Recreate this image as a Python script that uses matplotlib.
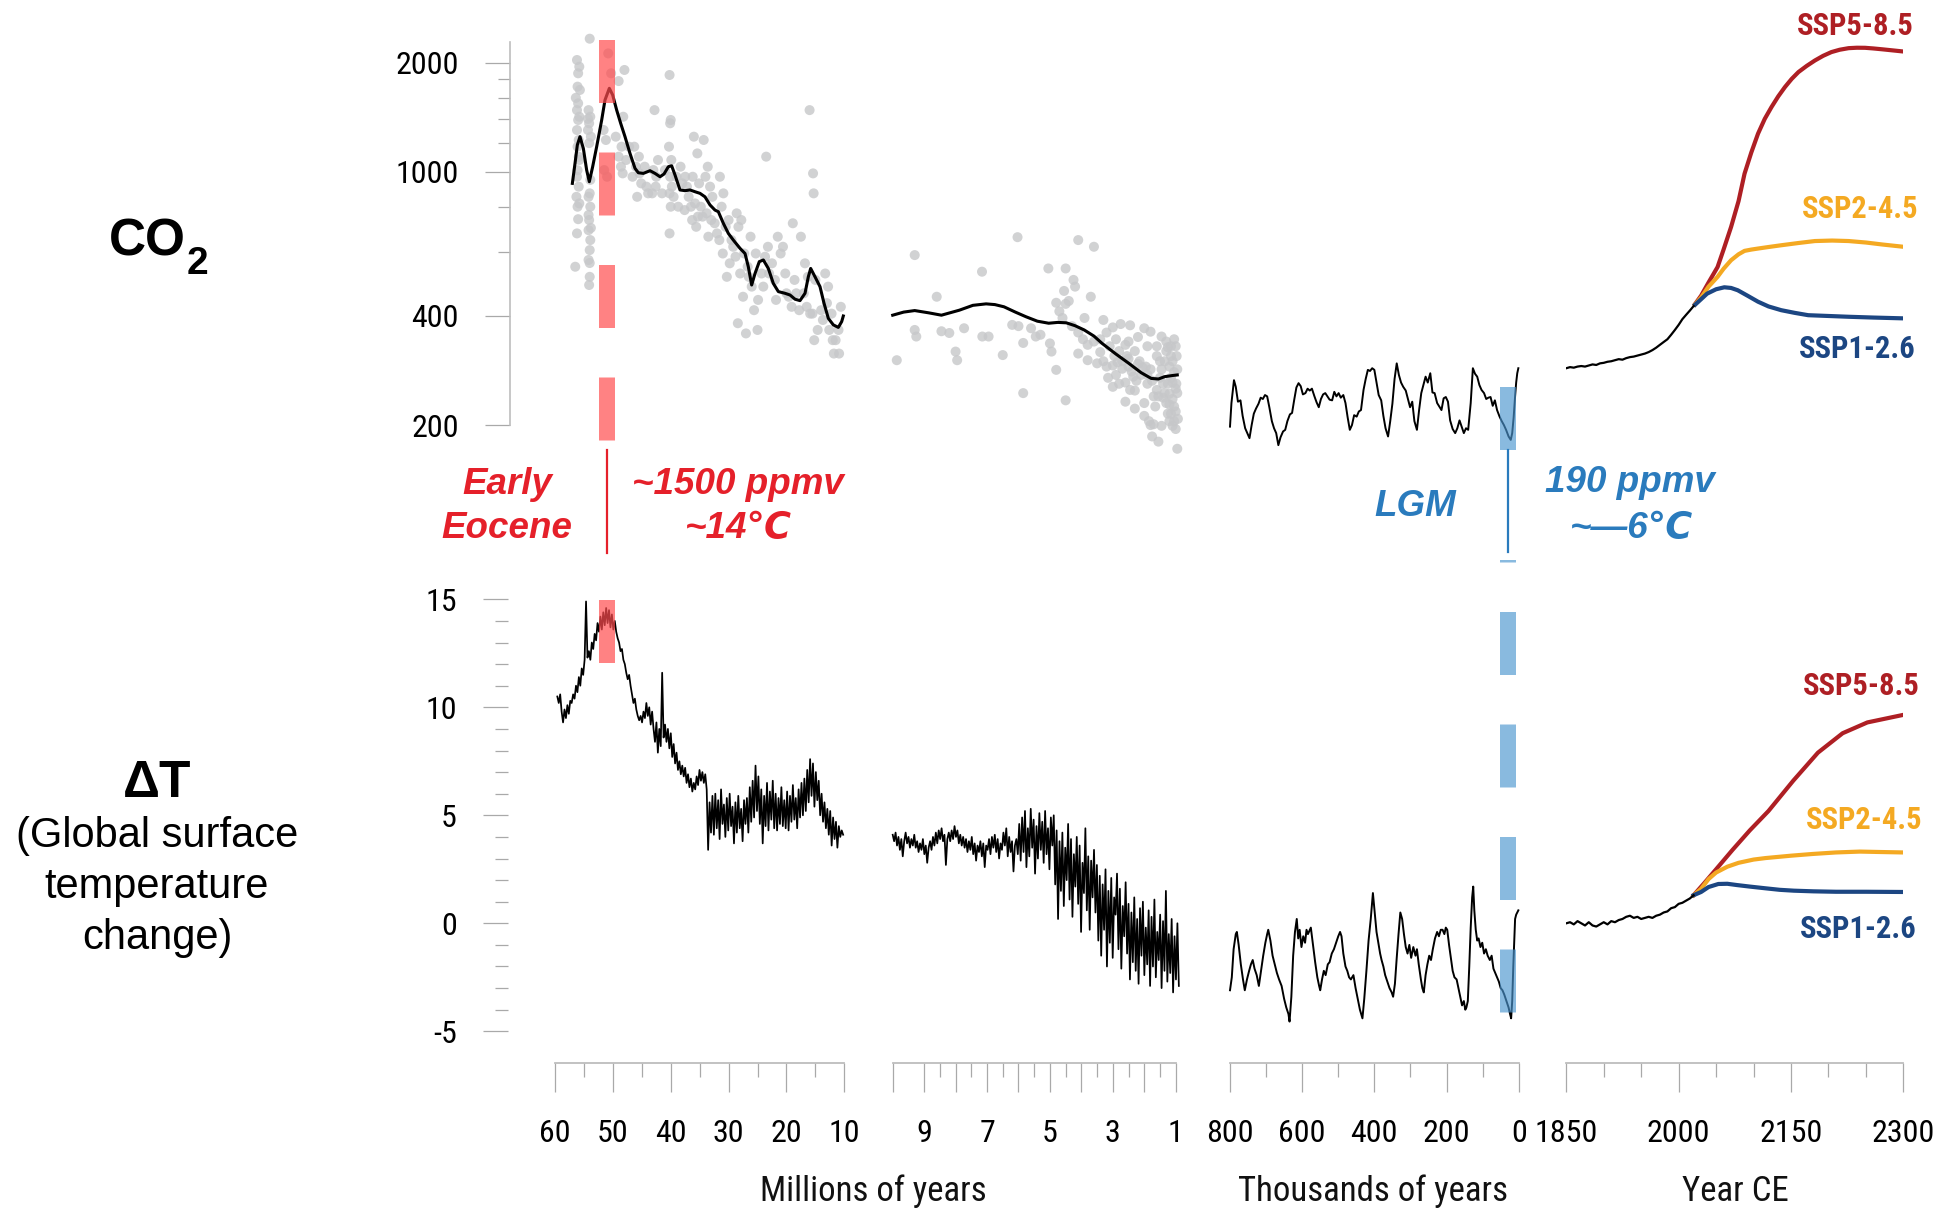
import numpy as np
import matplotlib
matplotlib.use("Agg")
import matplotlib.pyplot as plt
from matplotlib import font_manager
from matplotlib.lines import Line2D
from matplotlib.ticker import FixedLocator, NullFormatter, FixedFormatter
from matplotlib.transforms import blended_transform_factory

SANS = ["Liberation Sans", "DejaVu Sans"]
installed = {f.name for f in font_manager.fontManager.ttflist}
narrow = [n for n in ("Liberation Sans Narrow", "Roboto Condensed", "Open Sans Condensed") if n in installed]
if narrow:
    plt.rcParams["font.family"] = [narrow[0]] + SANS
    TICK_FS, SSP_FS, TITLE_FS = 23, 22, 25
else:
    plt.rcParams["font.family"] = SANS
    TICK_FS, SSP_FS, TITLE_FS = 21.5, 20.5, 23.5
plt.rcParams["axes.unicode_minus"] = False
plt.rcParams["lines.scale_dashes"] = False

# ---------------- data ----------------
# Cenozoic CO2, smoothed curve (Ma, ppm)
ceno_co2 = [(57.0, 929), (56.54, 1055), (56.14, 1186), (55.68, 1250), (55.10, 1160), (54.53, 1011),
            (54.07, 939), (53.49, 1033), (52.80, 1173), (51.93, 1390), (51.36, 1578), (50.61, 1700),
            (50.03, 1629), (49.34, 1480), (48.65, 1361), (47.90, 1250), (47.04, 1124), (46.17, 1022),
            (45.60, 994), (44.73, 990), (43.58, 1007), (42.72, 990), (41.85, 969), (41.16, 986),
            (40.41, 1033), (39.84, 1039), (39.26, 980), (38.40, 891), (37.53, 887), (36.67, 891),
            (35.80, 881), (34.94, 872), (34.08, 853), (33.21, 810), (32.35, 784), (31.77, 776),
            (30.91, 721), (30.04, 676), (29.18, 648), (28.03, 615), (27.16, 595), (26.59, 547),
            (26.01, 487), (25.43, 524), (24.69, 565), (23.99, 571), (23.13, 541), (22.27, 492),
            (21.40, 467), (20.25, 462), (19.38, 457), (18.52, 445), (17.66, 441), (16.79, 462),
            (16.22, 513), (15.81, 541), (15.06, 513), (14.20, 482), (13.51, 434), (12.76, 394),
            (11.90, 378), (11.03, 372), (10.45, 386), (10.17, 400)]

# Cenozoic CO2 proxy estimates (Ma, ppm)
ceno_proxy = [(56.2, 2035), (55.8, 1950), (56.0, 1870), (56.1, 1718), (55.7, 1682), (56.0, 1545),
              (56.2, 1480), (55.8, 1419), (56.0, 1390), (56.2, 1304), (55.9, 1224), (56.1, 1173),
              (55.8, 1078), (56.2, 969), (55.9, 910), (56.3, 853), (55.8, 818), (56.1, 801),
              (56.2, 676), (56.5, 547), (54.0, 2330), (54.2, 1480), (53.9, 1419), (54.1, 1361),
              (54.3, 1304), (53.8, 1250), (54.0, 872), (54.2, 853), (53.9, 801), (54.1, 736),
              (54.2, 690), (53.9, 648), (54.0, 608), (54.2, 571), (54.0, 513), (54.1, 487),
              (50.8, 2122), (50.3, 1870), (49.0, 1780), (51.6, 1304), (51.2, 1224), (51.5, 1011),
              (51.0, 969), (48.0, 1910), (48.2, 1419), (48.5, 1173), (48.6, 1033), (46.3, 1173),
              (45.5, 1101), (46.0, 1033), (45.4, 990), (45.8, 853), (42.8, 1480), (42.5, 969),
              (42.6, 910), (43.2, 872), (40.2, 1850), (40.0, 1390), (40.1, 1361), (40.3, 1173),
              (39.9, 1078), (40.1, 969), (39.8, 910), (40.2, 872), (40.0, 801), (40.2, 676),
              (38.3, 1033), (37.5, 969), (38.0, 929), (36.9, 853), (37.6, 784), (36.0, 1250),
              (35.4, 1124), (36.2, 969), (35.1, 929), (35.8, 818), (35.3, 752), (35.6, 705),
              (34.3, 1224), (33.6, 1033), (34.0, 969), (33.2, 910), (33.8, 768), (33.0, 736),
              (33.5, 662), (31.5, 969), (30.9, 872), (31.2, 801), (30.0, 736), (30.5, 705),
              (31.0, 595), (29.8, 559), (30.3, 513), (28.6, 768), (27.8, 736), (28.3, 705),
              (27.3, 595), (28.0, 524), (27.5, 452), (28.4, 382), (27.0, 358), (26.2, 662),
              (25.3, 595), (26.0, 482), (24.9, 443), (25.6, 415), (25.0, 366), (23.5, 1101),
              (23.2, 621), (23.7, 583), (23.0, 524), (21.5, 662), (20.6, 621), (21.0, 595),
              (20.2, 524), (19.6, 452), (18.9, 721), (18.6, 503), (19.1, 424), (16.0, 1480),
              (17.5, 662), (16.8, 559), (16.3, 513), (17.0, 462), (16.5, 424), (15.9, 406),
              (15.4, 990), (15.3, 872), (15.0, 503), (15.5, 406), (14.6, 366), (15.2, 343),
              (13.3, 524), (12.8, 482), (13.0, 434), (12.2, 406), (12.6, 366), (11.8, 315),
              (10.6, 424), (11.0, 366), (10.9, 315),
              (49.5, 1250), (49.0, 1101), (48.3, 990), (47.7, 1078), (47.2, 1173), (46.6, 969),
              (45.1, 929), (44.5, 1033), (44.2, 910), (43.9, 872), (43.0, 1011), (42.2, 1078),
              (41.5, 872), (41.0, 1011), (39.5, 853), (39.0, 969), (38.7, 801), (37.2, 910),
              (36.5, 801), (36.3, 736), (34.8, 801), (34.5, 752), (32.8, 853), (32.4, 721),
              (32.0, 676), (31.6, 648), (29.5, 648), (29.2, 621), (28.8, 583), (26.7, 547),
              (26.5, 513), (24.3, 524), (24.0, 482), (22.5, 559), (22.0, 503), (21.8, 443),
              (20.0, 462), (18.3, 462), (17.8, 415), (14.0, 415), (13.7, 390), (12.0, 343),
              (11.5, 343), (56.4, 1600), (55.9, 1100), (56.1, 1010), (54.3, 1400), (54.1, 1200),
              (53.9, 950), (54.2, 760), (53.8, 700), (56.0, 740), (54.0, 560)]

# Late Miocene to Pleistocene CO2, smoothed (Ma, ppm)
neo_co2 = [(10.0, 402), (9.65, 410), (9.30, 414), (8.85, 408), (8.45, 402), (7.88, 415), (7.45, 428),
           (7.03, 432), (6.75, 430), (6.46, 424), (6.1, 410), (5.76, 398), (5.4, 387), (5.04, 382),
           (4.75, 384), (4.48, 383), (4.2, 376), (3.91, 366), (3.6, 352), (3.34, 336), (2.9, 314),
           (2.49, 296), (2.1, 279), (1.78, 269), (1.55, 268), (1.35, 272), (1.1, 274), (0.95, 275)]

neo_proxy = [(9.30, 589), (9.87, 302), (9.3, 366), (9.25, 351), (8.6, 452), (8.45, 363), (8.2, 359),
             (8.0, 319), (7.95, 302), (7.73, 370), (7.16, 530), (7.15, 351), (6.95, 351), (6.5, 312),
             (6.03, 660), (6.2, 378), (6.0, 375), (5.85, 337), (5.85, 245), (5.6, 370), (5.45, 351),
             (5.3, 355), (5.05, 541), (5.0, 336), (4.95, 319), (4.8, 284), (4.5, 541), (4.5, 234),
             (4.8, 435), (4.5, 432), (4.25, 503), (4.2, 482), (4.1, 648), (3.6, 621), (4.55, 469),
             (4.4, 440), (4.3, 375), (4.1, 360), (3.95, 345), (3.8, 333), (3.7, 452), (4.1, 315),
             (3.8, 302), (3.5, 296), (3.3, 390), (3.0, 372), (2.75, 380), (2.45, 377), (3.2, 360),
             (2.9, 345), (2.6, 333), (2.3, 320), (3.3, 300), (3.0, 292), (2.7, 286), (2.4, 281),
             (3.2, 290), (2.9, 275), (2.6, 262), (2.3, 249), (2.6, 232), (2.3, 222), (2.0, 212),
             (1.85, 205), (1.7, 201), (1.45, 199), (1.1, 199), (2.0, 370), (1.8, 362), (1.45, 351),
             (1.3, 340), (1.25, 328), (1.9, 260), (1.6, 250), (1.4, 238), (1.2, 228), (1.0, 218),
             (1.05, 205), (1.15, 310), (1.1, 300), (1.2, 290), (1.05, 280), (1.15, 270), (1.1, 262),
             (1.0, 252), (1.2, 244), (1.1, 236), (2.5, 305), (2.2, 295), (2.1, 275), (1.8, 285),
             (1.6, 310), (1.5, 270), (2.8, 320), (3.4, 318), (3.6, 340), (3.9, 395), (4.6, 395),
             (4.7, 412), (1.35, 300), (1.25, 260), (0.95, 172), (1.55, 180), (1.75, 186),
             (3.4, 345), (3.1, 330), (2.95, 310), (2.85, 298), (2.7, 300), (2.55, 310), (2.5, 290),
             (2.35, 272), (2.25, 265), (2.15, 300), (2.05, 288), (1.95, 290), (1.9, 275), (1.75, 265),
             (1.7, 240), (1.65, 225), (1.55, 240), (1.5, 300), (1.45, 285), (1.4, 260), (1.35, 245),
             (1.3, 230), (1.25, 215), (1.2, 205), (1.15, 215), (1.05, 225), (1.0, 195), (0.98, 260),
             (0.95, 285), (0.97, 310), (1.0, 330), (1.05, 345), (1.15, 330), (1.3, 320), (1.6, 330),
             (1.9, 330), (2.2, 350), (2.5, 340), (0.95, 245), (0.93, 208), (1.8, 200), (2.0, 230),
             (2.45, 250), (2.8, 260), (3.0, 255), (3.15, 270)]

# ice-core CO2 (ka, ppm)
ice_co2 = [(800, 198), (796, 230), (789, 266), (784, 255), (778, 232), (771, 234), (765, 212), (758, 196),
           (752, 190), (746, 184), (740, 200), (734, 215), (728, 222), (721, 229), (715, 238), (709, 236),
           (703, 242), (697, 240), (691, 224), (684, 205), (678, 196), (672, 190), (666, 176), (660, 185),
           (653, 192), (647, 194), (641, 205), (634, 214), (628, 216), (622, 235), (616, 254), (610, 261),
           (604, 256), (598, 243), (591, 245), (585, 252), (579, 249), (573, 252), (566, 240), (560, 231),
           (554, 224), (548, 236), (542, 243), (536, 245), (530, 240), (524, 235), (517, 234), (511, 247),
           (505, 240), (499, 245), (493, 238), (486, 242), (480, 230), (474, 210), (468, 194), (462, 200),
           (456, 213), (449, 211), (443, 218), (437, 220), (430, 250), (424, 268), (418, 284), (412, 282),
           (406, 287), (400, 284), (394, 262), (388, 242), (381, 234), (375, 212), (369, 196), (362, 186),
           (356, 205), (350, 229), (344, 268), (338, 296), (332, 275), (326, 262), (320, 255), (313, 249),
           (307, 236), (301, 224), (295, 232), (289, 205), (282, 194), (276, 220), (270, 245), (264, 258),
           (258, 272), (252, 262), (245, 278), (239, 246), (233, 245), (226, 230), (220, 225), (214, 220),
           (208, 237), (202, 239), (196, 232), (190, 206), (183, 195), (176, 190), (170, 196), (164, 206),
           (158, 198), (152, 190), (146, 196), (140, 194), (133, 230), (127, 287), (121, 277), (115, 272),
           (109, 258), (103, 250), (96, 245), (90, 236), (84, 238), (78, 239), (72, 226), (66, 234),
           (60, 220), (53, 211), (47, 205), (41, 200), (35, 194), (28, 186), (22, 182), (18, 190),
           (14, 210), (10, 240), (7, 262), (4, 278), (1, 287)]

# historical CO2 and SSP concentration pathways (year, ppm)
hist_years = list(range(1850, 2021, 5))
hist_co2 = [287, 289, 288, 290, 291, 290, 292, 294, 293, 296, 297, 299, 300, 302, 304, 303, 306, 308,
            309, 311, 313, 315, 318, 322, 327, 333, 339, 345, 355, 366, 378, 392, 403, 414, 426]
ssp585_years = [2020, 2030, 2040, 2052, 2060, 2070, 2080, 2088, 2097, 2106, 2115, 2124, 2133, 2142,
                2151, 2160, 2171, 2182, 2193, 2204, 2215, 2227, 2238, 2249, 2260, 2272, 2286, 2300]
ssp585_co2 = [426, 455, 495, 546, 610, 704, 830, 988, 1130, 1274, 1400, 1509, 1615, 1714,
              1805, 1885, 1960, 2029, 2090, 2140, 2172, 2194, 2200, 2199, 2190, 2178, 2163, 2148]
ssp245_years = [2020, 2030, 2040, 2052, 2060, 2070, 2080, 2088, 2097, 2106, 2120, 2137, 2160, 2182,
                2205, 2227, 2250, 2272, 2300]
ssp245_co2 = [426, 450, 482, 513, 540, 570, 592, 605, 610, 614, 620, 627, 636, 644, 646, 644, 638, 630, 621]
ssp126_years = [2020, 2030, 2038, 2050, 2061, 2070, 2079, 2092, 2106, 2120, 2137, 2155, 2173, 2200,
                2227, 2260, 2300]
ssp126_co2 = [426, 445, 461, 474, 480, 478, 471, 455, 438, 425, 415, 408, 402, 400, 398, 396, 394]

# Cenozoic temperature (59.6 -> 10.2 Ma, evenly sampled)
ceno_temp = [10.5, 10.2, 10.6, 9.8, 9.3, 9.9, 9.5, 10.1, 9.7, 10.3, 10.2,
             10.6, 10.4, 11.0, 10.7, 11.4, 11.0, 11.8, 11.5,
             12.2, 14.9, 12.3,
             12.6, 12.2, 13.0, 12.7, 13.4, 13.1, 13.9, 13.5,
             14.2, 13.6, 14.4, 13.8, 14.6, 13.9, 14.5, 13.7, 14.3, 13.6, 14.0, 13.5,
             13.2, 13.0, 12.6, 12.7, 12.2, 12.0, 11.6, 11.3, 11.5, 11.0, 10.6, 10.2, 10.4, 9.9, 9.6, 9.4, 9.6, 9.3,
             9.8, 9.5, 10.2, 9.6, 10.0, 9.2, 9.8, 9.0,
             8.4, 9.3, 7.9, 9.0, 8.2, 11.6, 8.6,
             9.2, 8.4, 9.0, 8.1, 8.8, 7.7, 8.3, 7.4, 7.9, 7.1, 7.5, 6.9, 7.3,
             6.8, 7.2, 6.5, 6.9, 6.3, 6.7, 6.1, 6.5, 6.2, 6.8, 6.4, 7.1, 6.6, 7.0, 6.5, 6.9,
             6.2, 3.4, 5.6, 4.2,
             5.9, 4.1, 6.0, 4.4, 5.7, 3.9, 6.2, 4.6, 5.5, 4.0, 5.8, 4.3, 6.0, 4.5, 5.4, 3.7, 5.6, 4.2, 5.9, 4.4,
             5.3, 3.8, 5.7, 4.6,
             5.8, 4.2, 6.3, 4.7, 6.6, 4.9, 7.3, 5.2, 6.8, 4.6, 6.2, 3.7, 5.9, 4.5, 6.5, 4.3, 6.1, 4.8, 6.6, 4.4,
             6.0, 4.3, 5.8, 4.6, 6.3, 4.5, 5.7, 4.4, 6.1, 4.3, 5.9, 4.7, 6.4, 4.8, 5.8, 4.4, 6.2, 4.9, 6.5, 5.0,
             6.7, 5.2, 7.1, 5.6, 7.6, 5.9, 7.4, 5.4, 7.0, 5.7, 6.6, 5.0,
             6.0, 4.7, 5.6, 4.4, 5.3, 4.1, 5.2, 3.6, 4.9, 3.9, 4.7, 3.5, 4.5, 4.0, 4.3, 4.1]

# late Miocene to Pleistocene temperature (10.0 -> 0.9 Ma, evenly sampled)
neo_temp = [4.1, 3.8, 4.2, 3.6, 4.0, 3.4, 3.9, 3.1, 3.8, 4.2,
            3.7, 4.0, 3.5, 3.9, 3.6, 4.1, 3.5, 3.8, 3.3, 3.7,
            3.4, 3.9, 3.2, 3.6, 2.8, 3.5, 3.8, 3.4, 4.0, 3.6,
            4.2, 3.7, 4.3, 3.9, 4.4, 3.8, 4.1, 2.7, 3.9, 4.2,
            3.8, 4.3, 3.9, 4.5, 4.0, 4.3, 3.7, 4.1, 3.6, 4.0,
            3.5, 3.9, 3.3, 3.8, 3.4, 4.0, 3.2, 3.7, 2.9, 3.6,
            3.3, 3.8, 3.1, 3.7, 2.6, 3.6, 3.4, 3.9, 3.2, 4.0,
            3.5, 4.1, 3.3, 3.9, 3.0, 3.7, 3.4, 4.2, 3.6, 4.4,
            3.1, 4.0, 3.3, 3.8, 2.4, 3.6, 3.9, 3.2,
            4.6, 2.9, 4.9, 3.3, 5.2, 2.6, 4.4, 3.1, 5.3, 3.5, 4.8, 2.3, 4.5, 3.0, 5.1, 3.4, 4.7, 2.8, 5.2, 3.2,
            4.4, 2.5, 4.9, 3.6, 5.0, 1.8,
            4.3, 0.2, 3.8, 1.5, 4.2, 0.8, 3.5, 2.0, 4.6, 1.1, 3.9, 0.3, 3.2, 1.7, 4.0, 0.9, 3.6, -0.4, 2.8, 1.4,
            4.4, 0.6, 3.1, -0.3, 2.9, 1.2, 3.4,
            0.5, 2.7, -0.8, 2.2, -1.5, 1.8, -0.3, 2.5, -2.0, 1.5, -0.9, 2.1, -1.6, 1.2, 0.4, 2.3, -1.2, 1.6,
            -2.1, 0.8, -0.6, 1.9,
            -1.4, 0.9, -2.6, 0.5, -1.8, 1.2, -2.2, 0.2, -2.8, 0.7, -1.5, 1.0, -2.4, -0.2, -1.9, 0.6, -2.9, 0.3,
            -2.0, 1.1, -2.5, -0.4, -1.7, 0.4, -3.0, 0.1, -2.2, 1.5, -2.7, -0.5, -2.3, 0.2, -3.2, -0.6, -2.6,
            0.0, -2.9]

# glacial cycles temperature (ka, degC)
ice_temp = [(800, -3.1), (795, -2.5), (790, -1.2), (784, -0.5), (781, -0.4), (776, -1.0), (770, -1.9),
            (764, -2.6), (759, -3.1), (753, -2.6), (747, -2.2), (742, -1.9), (737, -1.7), (732, -2.1),
            (726, -2.4), (720, -2.9), (714, -2.2), (708, -1.5), (702, -0.9), (697, -0.5), (694, -0.3),
            (688, -0.8), (682, -1.5), (676, -1.9), (670, -2.3), (664, -2.6), (657, -2.9), (650, -3.5),
            (644, -3.9), (638, -4.2), (635, -4.55), (630, -3.4), (625, -1.5), (620, -0.4), (615, 0.2),
            (611, -0.7), (607, -0.3), (602, -1.1), (597, -0.6), (592, -0.9), (588, -0.3), (584, -0.5),
            (576, -0.2), (570, -1.0), (564, -1.8), (558, -2.5), (553, -2.9), (550, -3.1), (545, -2.6),
            (540, -2.2), (535, -2.4), (529, -1.9), (524, -1.8), (518, -1.4), (512, -1.2), (506, -0.9),
            (500, -0.6), (495, -0.4), (491, -0.6), (486, -1.4), (480, -2.0), (475, -2.2), (470, -2.5),
            (465, -2.6), (458, -2.4), (452, -3.0), (446, -3.5), (440, -4.0), (433, -4.4), (428, -3.5),
            (422, -2.2), (416, -0.8), (410, 0.2), (404, 1.4), (399, 0.5), (394, -0.4), (389, -0.9),
            (384, -1.4), (380, -1.7), (375, -2.0), (370, -2.4), (364, -2.7), (358, -3.0), (352, -3.2),
            (348, -3.4), (343, -2.8), (338, -1.6), (333, -0.5), (328, 0.5), (323, 0.2), (318, -0.5),
            (313, -1.1), (308, -1.4), (303, -1.0), (298, -1.6), (292, -1.1), (286, -1.5), (282, -1.2),
            (277, -1.9), (271, -2.6), (267, -3.0), (263, -3.2), (258, -2.4), (253, -1.9), (248, -1.5),
            (243, -1.7), (238, -1.2), (232, -0.7), (226, -0.4), (221, -0.6), (216, -0.3), (211, -0.3),
            (206, -0.5), (202, -0.2), (198, -0.3), (193, -1.0), (188, -1.6), (183, -2.2), (178, -2.5),
            (172, -2.6), (167, -3.0), (162, -3.4), (157, -3.8), (152, -3.6), (148, -4.0), (145, -3.9),
            (141, -3.6), (137, -2.0), (133, -0.2), (129, 1.2), (126, 1.7), (123, 0.6), (119, -0.3),
            (115, -0.8), (111, -0.7), (106, -1.1), (101, -0.9), (96, -1.4), (91, -1.2), (86, -1.5),
            (80, -1.7), (75, -1.5), (70, -2.1), (65, -2.3), (60, -2.5), (55, -2.7), (50, -3.0), (45, -3.1),
            (40, -3.3), (34, -3.6), (28, -3.9), (24, -4.2), (21, -4.4), (18, -3.6), (15, -2.0), (12, -0.6),
            (10, 0.2), (7, 0.4), (4, 0.5), (1, 0.6)]

# historical warming and SSP projections (year, degC)
hist_temp = [0.0, 0.05, -0.05, 0.1, 0.0, -0.1, 0.05, -0.1, -0.15, -0.05, 0.05, -0.05, 0.1, 0.05, 0.15,
             0.2, 0.3, 0.35, 0.25, 0.3, 0.2, 0.25, 0.3, 0.25, 0.35, 0.4, 0.5, 0.55, 0.7, 0.75, 0.9, 0.95,
             1.05, 1.15, 1.3]
t585_years = [2020, 2034, 2050, 2072, 2095, 2120, 2153, 2186, 2219, 2252, 2300]
t585 = [1.3, 1.85, 2.5, 3.4, 4.3, 5.2, 6.6, 7.9, 8.8, 9.3, 9.65]
t245_years = [2020, 2030, 2040, 2050, 2065, 2080, 2100, 2116, 2150, 2179, 2210, 2242, 2270, 2300]
t245 = [1.3, 1.6, 2.05, 2.35, 2.62, 2.8, 2.95, 3.02, 3.13, 3.21, 3.28, 3.32, 3.3, 3.28]
t126_years = [2020, 2030, 2040, 2053, 2065, 2078, 2095, 2116, 2135, 2154, 2180, 2210, 2250, 2300]
t126 = [1.3, 1.45, 1.68, 1.82, 1.83, 1.77, 1.70, 1.62, 1.55, 1.51, 1.48, 1.46, 1.46, 1.45]

eocene_ma = 51.0     # Early Eocene climatic optimum
lgm_ka = 29.0        # Last Glacial Maximum band centre

RED_TXT = "#e5202a"
BLUE_TXT = "#2a7bbd"
C585, C245, C126 = "#ae1f24", "#f4a922", "#1c4682"
DOT = "#c6c7c9"
TICK = "#a9a9a9"

# ---------------- layout ----------------
W, H = 1939, 1212
fig = plt.figure(figsize=(W / 100, H / 100), dpi=100)


def box(x0, y0, x1, y1):
    return [x0 / W, 1 - y1 / H, (x1 - x0) / W, (y1 - y0) / H]


def fy(y):
    return 1 - y / H


cols = [(555, 844.3, (60, 10)), (892.7, 1175.7, (10, 1)),
        (1230, 1518.7, (800, 0)), (1566.3, 1903.3, (1850, 2300))]
top, bot = [], []
for x0, x1, xl in cols:
    a = fig.add_axes(box(x0, 20, x1, 470))
    a.set_yscale("log")
    a.set_ylim(150.3, 2624)
    a.set_xlim(*xl)
    for s in a.spines.values():
        s.set_visible(False)
    a.tick_params(axis="both", which="both", left=False, bottom=False,
                  labelleft=False, labelbottom=False)
    a.patch.set_alpha(0)
    top.append(a)

    b = fig.add_axes(box(x0, 580, x1, 1062.7))
    b.set_ylim(-6.454, 15.894)
    b.set_xlim(*xl)
    for k in ("top", "right", "left"):
        b.spines[k].set_visible(False)
    b.spines["bottom"].set_color("#bdbdbd")
    b.spines["bottom"].set_linewidth(1.3)
    b.tick_params(axis="y", which="both", left=False, labelleft=False)
    b.tick_params(axis="x", which="major", direction="out", length=29 * 0.72, width=0.9,
                  color=TICK, pad=20, labelsize=TICK_FS)
    b.tick_params(axis="x", which="minor", direction="out", length=14 * 0.72, width=0.9, color=TICK)
    b.patch.set_alpha(0)
    bot.append(b)

# x ticks for each time window
x_major = [[60, 50, 40, 30, 20, 10], [10, 9, 8, 7, 6, 5, 4, 3, 2, 1],
           [800, 600, 400, 200, 0], [1850, 2000, 2150, 2300]]
x_labels = [["60", "50", "40", "30", "20", "10"], ["", "9", "", "7", "", "5", "", "3", "", "1"],
            ["800", "600", "400", "200", "0"], ["1850", "2000", "2150", "2300"]]
x_minor = [[55, 45, 35, 25, 15], [8.5, 7.5, 6.5, 5.5, 4.5, 3.5, 2.5, 1.5],
           [700, 500, 300, 100], [1900, 1950, 2050, 2100, 2200, 2250]]
for b, mj, lb, mn in zip(bot, x_major, x_labels, x_minor):
    b.xaxis.set_major_locator(FixedLocator(mj))
    b.xaxis.set_major_formatter(FixedFormatter(lb))
    b.xaxis.set_minor_locator(FixedLocator(mn))

# CO2 axis (log)
ya = top[0]
ya.spines["left"].set_visible(True)
ya.spines["left"].set_color("#bdbdbd")
ya.spines["left"].set_linewidth(1.2)
ya.spines["left"].set_position(("outward", 45 * 0.72))
ya.spines["left"].set_bounds(200, 2281)
ya.yaxis.set_major_locator(FixedLocator([200, 400, 1000, 2000]))
ya.yaxis.set_major_formatter(FixedFormatter(["200", "400", "1000", "2000"]))
ya.yaxis.set_minor_locator(FixedLocator([600, 800, 1200, 1400, 1600, 1800]))
ya.yaxis.set_minor_formatter(NullFormatter())
ya.tick_params(axis="y", which="major", left=True, labelleft=True, length=25 * 0.72, width=0.9,
               color=TICK, pad=26 * 0.72, labelsize=TICK_FS)
ya.tick_params(axis="y", which="minor", left=True, length=12 * 0.72, width=0.9, color=TICK)

# temperature axis
yb = bot[0]
yb.spines["left"].set_position(("outward", 47 * 0.72))
yb.yaxis.set_major_locator(FixedLocator([-5, 0, 5, 10, 15]))
yb.yaxis.set_major_formatter(FixedFormatter(["-5", "0", "5", "10", "15"]))
yb.yaxis.set_minor_locator(FixedLocator([v for v in range(-4, 15) if v % 5]))
yb.tick_params(axis="y", which="major", left=True, labelleft=True, length=25 * 0.72, width=0.9,
               color=TICK, pad=26 * 0.72, labelsize=TICK_FS)
yb.tick_params(axis="y", which="minor", left=True, length=13 * 0.72, width=0.9, color=TICK)

# ---------------- CO2 panels ----------------
pm, pv = np.array(ceno_proxy).T
top[0].scatter(pm, pv, s=52, color=DOT, alpha=0.8, edgecolors="none", zorder=1, clip_on=False)
cm, cv = np.array(ceno_co2).T
top[0].plot(cm, cv, color="black", lw=2.2, zorder=3, clip_on=False)

pm, pv = np.array(neo_proxy).T
top[1].scatter(pm, pv, s=52, color=DOT, alpha=0.8, edgecolors="none", zorder=1, clip_on=False)
cm, cv = np.array(neo_co2).T
top[1].plot(cm, cv, color="black", lw=2.2, zorder=3, clip_on=False)

ik, iv = np.array(ice_co2).T
top[2].plot(ik, iv, color="black", lw=1.4, zorder=3, clip_on=False)

top[3].plot(ssp585_years, ssp585_co2, color=C585, lw=3.0, zorder=3, solid_capstyle="butt")
top[3].plot(ssp245_years, ssp245_co2, color=C245, lw=3.0, zorder=3, solid_capstyle="butt")
top[3].plot(ssp126_years, ssp126_co2, color=C126, lw=3.0, zorder=4, solid_capstyle="butt")
top[3].plot(hist_years, hist_co2, color="black", lw=1.6, zorder=5)

# ---------------- temperature panels ----------------
bot[0].plot(np.linspace(59.6, 10.2, len(ceno_temp)), ceno_temp, color="black", lw=1.25,
            zorder=3, clip_on=False)
bot[1].plot(np.linspace(10.0, 0.9, len(neo_temp)), neo_temp, color="black", lw=1.25,
            zorder=3, clip_on=False)
tk, tv = np.array(ice_temp).T
bot[2].plot(tk, tv, color="black", lw=1.4, zorder=3, clip_on=False)
bot[3].plot(t585_years, t585, color=C585, lw=3.0, zorder=3)
bot[3].plot(t245_years, t245, color=C245, lw=3.0, zorder=3)
bot[3].plot(t126_years, t126, color=C126, lw=3.0, zorder=4)
bot[3].plot(hist_years, hist_temp, color="black", lw=1.6, zorder=5)

# ---------------- highlight bands ----------------
ON, OFF = 63 * 0.72, 49.5 * 0.72


def band(ax, xval, y0, y1, color, alpha, offset=0.0):
    tr = blended_transform_factory(ax.transData, fig.transFigure)
    fig.add_artist(Line2D([xval, xval], [fy(y0), fy(y1)], transform=tr, color=color, alpha=alpha,
                          lw=16 * 0.72, linestyle=(offset, (ON, OFF)), dash_capstyle="butt",
                          zorder=6))


def rule(ax, xval, y0, y1, color):
    tr = blended_transform_factory(ax.transData, fig.transFigure)
    fig.add_artist(Line2D([xval, xval], [fy(y0), fy(y1)], transform=tr, color=color, lw=1.6, zorder=6))


band(top[0], eocene_ma, 40, 444, "#ff4d4f", 0.7)
band(top[0], eocene_ma, 600, 664, "#ff4d4f", 0.7)
band(top[2], lgm_ka, 387, 450, "#4a95cf", 0.65)
band(top[2], lgm_ka, 560, 1012.5, "#4a95cf", 0.65, offset=ON - 2.5 * 0.72)
rule(top[0], eocene_ma, 450, 553, RED_TXT)
rule(top[2], lgm_ka, 450, 552, BLUE_TXT)

# ---------------- text ----------------
ann = dict(family=SANS, fontsize=26.5, fontweight="bold", fontstyle="italic", ha="center", va="baseline")
fig.text(507 / W, fy(494), "Early", color=RED_TXT, **ann)
fig.text(507 / W, fy(538), "Eocene", color=RED_TXT, **ann)
fig.text(738 / W, fy(494), "~1500 ppmv", color=RED_TXT, **ann)
fig.text(738 / W, fy(538), "~14\u2103", color=RED_TXT, **ann)
fig.text(1415 / W, fy(516), "LGM", color=BLUE_TXT, **ann)
fig.text(1630 / W, fy(492), "190 ppmv", color=BLUE_TXT, **ann)
fig.text(1631 / W, fy(538), "~\u20146\u2103", color=BLUE_TXT, **ann)

ssp = dict(fontsize=SSP_FS, fontweight="bold", ha="center", va="baseline")
fig.text(1855 / W, fy(35), "SSP5-8.5", color=C585, **ssp)
fig.text(1860 / W, fy(218), "SSP2-4.5", color=C245, **ssp)
fig.text(1857 / W, fy(358), "SSP1-2.6", color=C126, **ssp)
fig.text(1861 / W, fy(695), "SSP5-8.5", color=C585, **ssp)
fig.text(1864 / W, fy(829), "SSP2-4.5", color=C245, **ssp)
fig.text(1858 / W, fy(938), "SSP1-2.6", color=C126, **ssp)

xt = dict(fontsize=TITLE_FS, ha="center", va="baseline", color="#111111")
fig.text(873 / W, fy(1201), "Millions of years", **xt)
fig.text(1373 / W, fy(1201), "Thousands of years", **xt)
fig.text(1735 / W, fy(1201), "Year CE", **xt)

fig.text(185.5 / W, fy(256), "CO", family=SANS, fontsize=37, fontweight="bold", ha="right", va="baseline")
fig.text(186.5 / W, fy(274), "2", family=SANS, fontsize=28, fontweight="bold", ha="left", va="baseline")
fig.text(157 / W, fy(797), "\u0394T", family=SANS, fontsize=37, fontweight="bold", ha="center", va="baseline")
lab = dict(family=SANS, fontsize=30, ha="center", va="baseline")
fig.text(157 / W, fy(847), "(Global surface", **lab)
fig.text(157 / W, fy(898), "temperature", **lab)
fig.text(157 / W, fy(949), "change)", **lab)

fig.savefig("out.png", dpi=100, facecolor="white")
